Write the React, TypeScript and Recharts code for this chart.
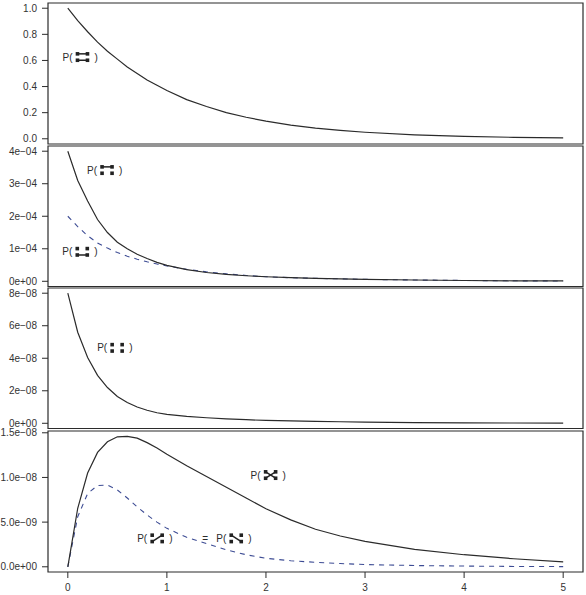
import { LineChart, Line, XAxis, YAxis, ReferenceArea, ReferenceDot } from "recharts";

const times = [0, 0.1, 0.2, 0.3, 0.4, 0.5, 0.6, 0.7, 0.8, 0.9, 1, 1.2, 1.4, 1.6, 1.8, 2, 2.25, 2.5, 2.75, 3, 3.5, 4, 4.5, 5];

const allUp = [1, 0.905, 0.82, 0.74, 0.67, 0.61, 0.55, 0.5, 0.45, 0.41, 0.37, 0.3, 0.247, 0.2, 0.165, 0.135, 0.105, 0.082, 0.064, 0.05, 0.03, 0.018, 0.011, 0.007];
const oneTop = [4e-4, 3.1e-4, 2.47e-4, 1.9e-4, 1.5e-4, 1.2e-4, 1e-4, 0.83e-4, 0.7e-4, 0.58e-4, 0.49e-4, 0.36e-4, 0.27e-4, 0.21e-4, 0.17e-4, 0.14e-4, 0.11e-4, 0.09e-4, 0.075e-4, 0.06e-4, 0.04e-4, 0.025e-4, 0.015e-4, 0.01e-4];
const oneBottom = [2e-4, 1.68e-4, 1.4e-4, 1.18e-4, 1.02e-4, 0.885e-4, 0.77e-4, 0.68e-4, 0.6e-4, 0.53e-4, 0.47e-4, 0.37e-4, 0.29e-4, 0.23e-4, 0.18e-4, 0.14e-4, 0.11e-4, 0.09e-4, 0.075e-4, 0.06e-4, 0.04e-4, 0.025e-4, 0.015e-4, 0.01e-4];
const noneUp = [8e-8, 5.6e-8, 4.05e-8, 2.95e-8, 2.2e-8, 1.65e-8, 1.28e-8, 1e-8, 0.8e-8, 0.65e-8, 0.55e-8, 0.43e-8, 0.34e-8, 0.27e-8, 0.22e-8, 0.18e-8, 0.145e-8, 0.12e-8, 0.095e-8, 0.075e-8, 0.045e-8, 0.03e-8, 0.018e-8, 0.01e-8];
const crossBoth = [0, 0.655e-8, 1.05e-8, 1.28e-8, 1.4e-8, 1.455e-8, 1.46e-8, 1.44e-8, 1.39e-8, 1.33e-8, 1.26e-8, 1.13e-8, 1.01e-8, 0.89e-8, 0.77e-8, 0.65e-8, 0.525e-8, 0.42e-8, 0.345e-8, 0.285e-8, 0.195e-8, 0.135e-8, 0.09e-8, 0.056e-8];
const crossOne = [0, 0.56e-8, 0.82e-8, 0.91e-8, 0.915e-8, 0.86e-8, 0.77e-8, 0.67e-8, 0.58e-8, 0.5e-8, 0.43e-8, 0.33e-8, 0.26e-8, 0.19e-8, 0.135e-8, 0.095e-8, 0.068e-8, 0.05e-8, 0.036e-8, 0.025e-8, 0.014e-8, 0.008e-8, 0.004e-8, 0.002e-8];

const xTicks = [0, 1, 2, 3, 4, 5];
const ticksA = [0, 0.2, 0.4, 0.6, 0.8, 1];
const labelsA = ["0.0", "0.2", "0.4", "0.6", "0.8", "1.0"];
const ticksB = [0, 1e-4, 2e-4, 3e-4, 4e-4];
const labelsB = ["0e+00", "1e−04", "2e−04", "3e−04", "4e−04"];
const ticksC = [0, 2e-8, 4e-8, 6e-8, 8e-8];
const labelsC = ["0e+00", "2e−08", "4e−08", "6e−08", "8e−08"];
const ticksD = [0, 0.5e-8, 1e-8, 1.5e-8];
const labelsD = ["0.0e+00", "5.0e−09", "1.0e−08", "1.5e−08"];

const INK = "#2b2b2b";
const BLUE = "#3d4c94";
const FONT = "'Liberation Sans', Arial, sans-serif";

type Link = "both" | "top" | "bottom" | "none" | "bow" | "slash" | "back";

// little four-dot diagram inside P( ), placed from the chart's own scales
function stateLabel(link: Link) {
  return ({ cx, cy }: { cx?: number; cy?: number }) => {
    const x = cx ?? 0;
    const y = cy ?? 0;
    const l = x - 5, r = x + 5, t = y - 3.2, b = y + 3.2;
    const seg = (a: number, c: number, d: number, e: number) => (
      <line x1={a} y1={c} x2={d} y2={e} stroke="#222" strokeWidth={1.5} />
    );
    return (
      <g>
        <text x={x - 20} y={y + 3.5} fontSize={10} fontFamily={FONT} fill={INK}>P(</text>
        <text x={x + 12} y={y + 3.5} fontSize={10} fontFamily={FONT} fill={INK}>)</text>
        {(link === "both" || link === "top") && seg(l, t, r, t)}
        {(link === "both" || link === "bottom") && seg(l, b, r, b)}
        {(link === "bow" || link === "back") && seg(l, t, r, b)}
        {(link === "bow" || link === "slash") && seg(l, b, r, t)}
        {[l, r].map(px => [t, b].map(py => (
          <rect key={`${px}-${py}`} x={px - 1.8} y={py - 1.8} width={3.6} height={3.6} fill="#222" />
        )))}
      </g>
    );
  };
}

function equalsSign({ cx, cy }: { cx?: number; cy?: number }) {
  return (
    <text x={cx} y={(cy ?? 0) + 3.5} textAnchor="middle" fontSize={10} fontFamily={FONT} fill={INK}>=</text>
  );
}

interface PanelProps {
  top: number;
  height: number;
  pad?: number;
  domain: [number, number];
  ticks: number[];
  labels: string[];
  solid: number[];
  dashed?: number[];
  showX?: boolean;
  children?: React.ReactNode;
}

function Panel({ top, height, pad = 1, domain, ticks, labels, solid, dashed, showX, children }: PanelProps) {
  const data = times.map((t, i) => ({ t, solid: solid[i], dashed: dashed ? dashed[i] : undefined }));
  const tickStyle = { fill: "#333", fontSize: 10, fontFamily: FONT };
  return (
    <div style={{ position: "absolute", left: 0, top }}>
      <LineChart width={586} height={height} data={data} margin={{ top: pad, right: 3, bottom: showX ? 0 : 1, left: 0 }}>
        <XAxis
          type="number" dataKey="t" domain={[-0.2, 5.2]} ticks={xTicks} allowDataOverflow
          hide={!showX} height={23} tick={tickStyle} tickSize={6} tickMargin={6}
          axisLine={false} tickLine={{ stroke: INK }} interval={0}
        />
        <YAxis
          type="number" domain={domain} ticks={ticks} allowDataOverflow width={48} interval={0}
          tick={tickStyle} tickSize={6} tickMargin={5} axisLine={false} tickLine={{ stroke: INK }}
          tickFormatter={(v: number) => labels[ticks.indexOf(v)]}
        />
        <ReferenceArea x1={-0.2} x2={5.2} y1={domain[0]} y2={domain[1]} fill="none" stroke={INK} strokeWidth={1.2} strokeOpacity={1} />
        {dashed && (
          <Line type="linear" dataKey="dashed" stroke={BLUE} strokeWidth={1.1} strokeDasharray="5 5" dot={false} isAnimationActive={false} />
        )}
        <Line type="linear" dataKey="solid" stroke={INK} strokeWidth={1.2} dot={false} isAnimationActive={false} />
        {children}
      </LineChart>
    </div>
  );
}

export default function App() {
  return (
    <div style={{ position: "absolute", left: 0, top: 0, width: 586, height: 595, background: "#fff" }}>
      <Panel top={2} height={143} domain={[-0.04, 1.04]} ticks={ticksA} labels={labelsA} solid={allUp}>
        <ReferenceDot x={0.148} y={0.626} shape={stateLabel("both")} />
      </Panel>
      <Panel top={144.5} height={142.5} domain={[-0.16e-4, 4.16e-4]} ticks={ticksB} labels={labelsB} solid={oneTop} dashed={oneBottom}>
        <ReferenceDot x={0.396} y={3.42e-4} shape={stateLabel("top")} />
        <ReferenceDot x={0.146} y={0.907e-4} shape={stateLabel("bottom")} />
      </Panel>
      <Panel top={287} height={142.5} domain={[-0.32e-8, 8.32e-8]} ticks={ticksC} labels={labelsC} solid={noneUp}>
        <ReferenceDot x={0.498} y={4.64e-8} shape={stateLabel("none")} />
      </Panel>
      <Panel top={425} height={170} pad={6} domain={[-0.0584e-8, 1.52e-8]} ticks={ticksD} labels={labelsD} solid={crossBoth} dashed={crossOne} showX>
        <ReferenceDot x={2.047} y={1.027e-8} shape={stateLabel("bow")} />
        <ReferenceDot x={0.902} y={0.318e-8} shape={stateLabel("slash")} />
        <ReferenceDot x={1.387} y={0.318e-8} shape={equalsSign} />
        <ReferenceDot x={1.7} y={0.318e-8} shape={stateLabel("back")} />
      </Panel>
    </div>
  );
}
